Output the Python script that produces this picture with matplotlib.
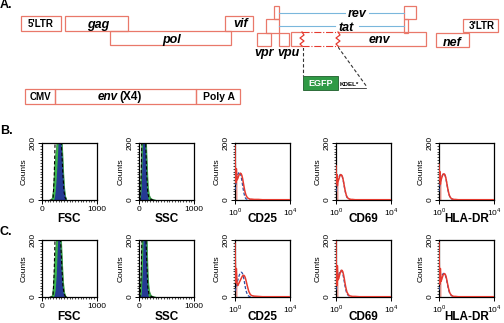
"""
Mapa del provirus (A) y histogramas de citometría (B, C)
"""
import matplotlib
matplotlib.use("Agg")
import matplotlib.pyplot as plt
from matplotlib.patches import Rectangle
from matplotlib.ticker import MultipleLocator, NullFormatter

plt.rcParams["font.family"] = ["Liberation Sans", "DejaVu Sans"]
plt.rcParams["mathtext.fontset"] = "custom"
plt.rcParams["mathtext.rm"] = "Liberation Sans"

W, H = 504, 323

# ---------- datos: mapa genético (coordenadas del esquema) ----------
genes = ["5'LTR", "gag", "vif", "pol", "vpr", "vpu", "env", "nef", "3'LTR"]
gene_x0 = [21, 65, 225, 110, 257, 279, 291, 436, 463]
gene_x1 = [61, 128, 253, 231, 271, 289, 426, 469, 498]
gene_y0 = [16, 16, 16, 31, 33, 33, 32, 33, 19]
gene_y1 = [31, 31, 31, 45, 46, 46, 46, 47, 32]
exons = ["rev1", "tat1", "rev2", "tat2"]
exon_x0 = [274, 266, 404, 404]
exon_x1 = [279, 279, 416, 408]
exon_y0 = [6, 19, 6, 19]
exon_y1 = [19, 33, 19, 33]
construct = ["CMV", "env (X4)", "Poly A"]
construct_x = [25, 55, 196, 240]

# ---------- datos: histogramas FSC / SSC (cuentas por canal) ----------
fsc_pos = [140, 160, 180, 200, 220, 240, 260, 280, 300, 320, 340, 360, 380, 400, 420, 440]
fsc_B_green = [0, 3, 10, 40, 110, 160, 195, 240, 300, 320, 280, 210, 120, 50, 15, 5]
fsc_B_blue = [0, 0, 0, 0, 5, 30, 80, 150, 230, 260, 220, 150, 80, 30, 8, 0]
fsc_B_ctrl = [0, 0, 0, 0, 70, 220, 300, 320, 310, 280, 230, 170, 90, 30, 8, 2]
fsc_C_green = [0, 2, 8, 40, 115, 170, 220, 280, 320, 300, 230, 140, 60, 20, 6, 2]
fsc_C_blue = [0, 0, 0, 0, 5, 25, 80, 180, 250, 220, 130, 60, 20, 5, 0, 0]
fsc_C_ctrl = [0, 0, 0, 0, 80, 230, 300, 320, 300, 260, 190, 110, 40, 12, 3, 1]

ssc_pos = [0, 20, 40, 60, 80, 100, 120, 140, 160, 180, 200, 220, 240, 260, 280, 300]
ssc_B_green = [0, 20, 180, 300, 330, 310, 250, 140, 50, 20, 10, 6, 4, 3, 2, 1]
ssc_B_blue = [0, 0, 40, 170, 280, 260, 150, 40, 8, 0, 0, 0, 0, 0, 0, 0]
ssc_B_ctrl = [0, 0, 90, 280, 320, 290, 210, 90, 25, 8, 4, 2, 1, 0, 0, 0]
ssc_C_green = [0, 15, 160, 290, 330, 320, 280, 200, 70, 25, 12, 6, 4, 3, 2, 1]
ssc_C_blue = [0, 0, 10, 90, 250, 270, 220, 80, 10, 0, 0, 0, 0, 0, 0, 0]
ssc_C_ctrl = [0, 0, 80, 270, 320, 300, 240, 130, 35, 10, 5, 2, 1, 0, 0, 0]

# ---------- datos: marcadores de activación (log10 de intensidad) ----------
log_pos = [0.0, 0.03, 0.06, 0.1, 0.15, 0.2, 0.25, 0.3, 0.35, 0.4, 0.45, 0.5, 0.55,
           0.6, 0.65, 0.7, 0.75, 0.8, 0.9, 1.0, 1.1, 1.2, 1.4, 1.7, 2.0, 2.5, 3.0, 3.5, 4.0]
cd25_B_red = [190, 100, 60, 110, 70, 75, 82, 88, 92, 94, 92, 86, 76, 62, 48, 35, 25, 17, 8, 5, 3, 3, 2, 2, 1, 1, 1, 1, 1]
cd25_B_blue = [35, 45, 55, 68, 80, 88, 94, 98, 97, 92, 82, 68, 52, 37, 24, 14, 8, 4, 2, 1, 0, 0, 0, 0, 0, 0, 0, 0, 0]
cd69_B_red = [120, 60, 90, 50, 65, 72, 80, 86, 89, 88, 84, 76, 64, 50, 37, 26, 17, 11, 5, 3, 2, 2, 1, 1, 1, 1, 1, 1, 1]
cd69_B_blue = [30, 40, 50, 60, 70, 78, 85, 89, 90, 88, 83, 74, 62, 48, 35, 24, 15, 9, 4, 2, 1, 0, 0, 0, 0, 0, 0, 0, 0]
hla_B_red = [125, 70, 100, 55, 70, 78, 85, 90, 92, 91, 86, 77, 64, 50, 37, 26, 17, 11, 5, 3, 2, 2, 1, 1, 1, 1, 1, 1, 1]
hla_B_blue = [30, 42, 52, 62, 72, 80, 87, 91, 92, 90, 85, 76, 63, 49, 36, 25, 16, 10, 4, 2, 1, 0, 0, 0, 0, 0, 0, 0, 0]
cd25_C_red = [188, 110, 50, 100, 45, 40, 45, 50, 55, 60, 65, 70, 74, 76, 76, 73, 67, 58, 38, 20, 10, 5, 3, 2, 1, 1, 1, 1, 1]
cd25_C_blue = [20, 25, 30, 38, 48, 58, 67, 75, 81, 85, 87, 86, 82, 74, 62, 48, 34, 22, 8, 3, 1, 0, 0, 0, 0, 0, 0, 0, 0]
cd69_C_red = [194, 80, 40, 110, 60, 65, 75, 84, 90, 94, 93, 88, 78, 65, 50, 37, 26, 17, 8, 4, 3, 2, 2, 1, 1, 1, 1, 1, 1]
cd69_C_blue = [25, 35, 45, 58, 68, 77, 85, 90, 93, 92, 88, 80, 68, 54, 40, 28, 18, 11, 5, 2, 1, 0, 0, 0, 0, 0, 0, 0, 0]
hla_C_red = [190, 90, 45, 100, 55, 62, 70, 77, 81, 82, 80, 74, 64, 52, 40, 29, 20, 13, 6, 3, 2, 2, 1, 1, 1, 1, 1, 1, 1]
hla_C_blue = [25, 35, 45, 55, 64, 72, 78, 82, 83, 81, 77, 70, 60, 48, 36, 26, 17, 11, 5, 2, 1, 0, 0, 0, 0, 0, 0, 0, 0]

BOX = "#e9786a"
RED = "#e53a2f"
BLUE = "#2c4ea3"
GREEN = "#39b54a"
NAVY = "#253a94"

fig = plt.figure(figsize=(W / 100, H / 100), dpi=100)
ov = fig.add_axes([0, 0, 1, 1])
ov.set_xlim(0, W)
ov.set_ylim(H, 0)
ov.axis("off")

# ---------- A: mapa ----------
for g, x0, x1, y0, y1 in zip(genes, gene_x0, gene_x1, gene_y0, gene_y1):
    ov.add_patch(Rectangle((x0, y0), x1 - x0, y1 - y0, fill=False, ec=BOX, lw=0.9))
for e, x0, x1, y0, y1 in zip(exons, exon_x0, exon_x1, exon_y0, exon_y1):
    ov.add_patch(Rectangle((x0, y0), x1 - x0, y1 - y0, fill=False, ec=BOX, lw=0.9))
for i in range(len(construct)):
    x0, x1 = construct_x[i], construct_x[i + 1]
    ov.add_patch(Rectangle((x0, 89), x1 - x0, 15, fill=False, ec=BOX, lw=0.9))

# líneas de splicing rev / tat
ov.plot([279, 345], [13, 13], color="#7ab7dc", lw=0.8)
ov.plot([369, 404], [13, 13], color="#7ab7dc", lw=0.8)
ov.plot([279, 335], [26, 26], color="#7ab7dc", lw=0.8)
ov.plot([359, 404], [26, 26], color="#7ab7dc", lw=0.8)

# zona sustituida por EGFP dentro de env
ov.add_patch(Rectangle((302.5, 30.5), 35, 17, fc="white", ec="none", zorder=3))
ov.plot([302, 338], [32, 32], color=RED, lw=0.8, ls="-.", zorder=4)
ov.plot([302, 338], [46, 46], color=RED, lw=0.8, ls="-.", zorder=4)
for zx in (302, 338):
    ov.plot([zx, zx + 2, zx - 2, zx + 2, zx - 2, zx], [32, 35, 38, 41, 44, 46],
            color=RED, lw=0.9, zorder=5)
ov.plot([303, 303], [47, 76], color="#333333", lw=0.8, ls=(0, (3, 2)))
ov.plot([338, 367], [47, 87], color="#333333", lw=0.8, ls=(0, (3, 2)))
ov.add_patch(Rectangle((303, 76), 35, 14, fc="#2f9a45", ec="#1d5e2a", lw=0.6))
ov.text(320.5, 83.5, "EGFP", color="white", fontsize=6.5, fontweight="bold",
        ha="center", va="center")
ov.text(340, 85, "KDEL*", fontsize=4.5, fontweight="bold", ha="left", va="center")
ov.plot([340, 366], [88, 88], color="black", lw=0.5)

gene_labels = [("gag", 98, 25), ("pol", 172, 40), ("vif", 241, 24), ("vpr", 264, 53),
               ("vpu", 288, 53), ("env", 379, 40), ("nef", 452, 43),
               ("rev", 357, 14), ("tat", 346, 28)]
for t, x, y in gene_labels:
    ov.text(x, y, t, fontsize=9, fontweight="bold", style="italic",
            ha="center", va="center", zorder=6)
ov.text(41, 24, "5'LTR", fontsize=7, fontweight="bold", ha="center", va="center")
ov.text(482, 26, "3'LTR", fontsize=7, fontweight="bold", ha="center", va="center")
ov.text(40, 97, "CMV", fontsize=7, fontweight="bold", ha="center", va="center")
ov.text(117.5, 97, "env", fontsize=8.5, fontweight="bold", style="italic", ha="right", va="center")
ov.text(119, 97, "(X4)", fontsize=8.5, fontweight="bold", ha="left", va="center")
ov.text(219, 97, "Poly A", fontsize=7.5, fontweight="bold", ha="center", va="center")

ov.text(0, 5.5, "A.", fontsize=9, fontweight="bold", ha="left", va="center")
ov.text(0, 131, "B.", fontsize=9, fontweight="bold", ha="left", va="center")
ov.text(0, 232, "C.", fontsize=9, fontweight="bold", ha="left", va="center")

# ---------- B, C: histogramas ----------
lefts = [42, 139, 235, 336, 439]
tops = [143, 240]
names = ["FSC", "SSC", "CD25", "CD69", "HLA-DR"]
lin_data = {
    (0, 0): (fsc_pos, fsc_B_green, fsc_B_blue, fsc_B_ctrl),
    (0, 1): (ssc_pos, ssc_B_green, ssc_B_blue, ssc_B_ctrl),
    (1, 0): (fsc_pos, fsc_C_green, fsc_C_blue, fsc_C_ctrl),
    (1, 1): (ssc_pos, ssc_C_green, ssc_C_blue, ssc_C_ctrl),
}
log_data = {
    (0, 2): (cd25_B_red, cd25_B_blue), (0, 3): (cd69_B_red, cd69_B_blue),
    (0, 4): (hla_B_red, hla_B_blue), (1, 2): (cd25_C_red, cd25_C_blue),
    (1, 3): (cd69_C_red, cd69_C_blue), (1, 4): (hla_C_red, hla_C_blue),
}
log_x = [10 ** v for v in log_pos]

for r, top in enumerate(tops):
    for c, left in enumerate(lefts):
        ax = fig.add_axes([left / W, 1 - (top + 57) / H, 55 / W, 57 / H])
        if c < 2:
            pos, green, blue, ctrl = lin_data[(r, c)]
            ax.fill_between(pos, green, color=GREEN, ec="#2a8a3a", lw=0.5)
            ax.plot(pos, ctrl, color="black", lw=0.8, ls=(0, (3, 2)))
            ax.fill_between(pos, blue, color=NAVY, lw=0)
            ax.set_xlim(0, 1000)
            ax.set_xticks([0, 1000])
            ax.xaxis.set_minor_locator(MultipleLocator(50))
        else:
            red, blue = log_data[(r, c)]
            ax.fill_between(log_x[:5], red[:5], color="#f3a49c", lw=0)
            ax.plot(log_x, blue, color=BLUE, lw=0.9, ls=(0, (2.5, 1.5)), zorder=3)
            ax.plot(log_x, red, color=RED, lw=1.1, zorder=4)
            ax.set_xscale("log")
            ax.set_xlim(1, 1e4)
            ax.set_xticks([1, 1e4])
            ax.set_xticklabels([r"$10^0$", r"$10^4$"])
            ax.xaxis.set_minor_formatter(NullFormatter())
        ax.set_ylim(0, 200)
        ax.set_yticks([0, 200])
        ax.yaxis.set_minor_locator(MultipleLocator(10))
        ax.tick_params(which="major", direction="out", length=3, width=0.7,
                       labelsize=6, pad=1)
        ax.tick_params(which="minor", direction="out", length=1.6, width=0.5)
        ax.tick_params(axis="y", labelrotation=90)
        for lbl in ax.get_yticklabels():
            lbl.set_va("center")
        ax.set_ylabel("Counts", fontsize=6, labelpad=1)
        for s in ax.spines.values():
            s.set_linewidth(0.9)
        ov.text(left + 27.5, top + 76.5, names[c], fontsize=8.5, fontweight="bold",
                ha="center", va="center")

fig.savefig("out.png", dpi=100)
